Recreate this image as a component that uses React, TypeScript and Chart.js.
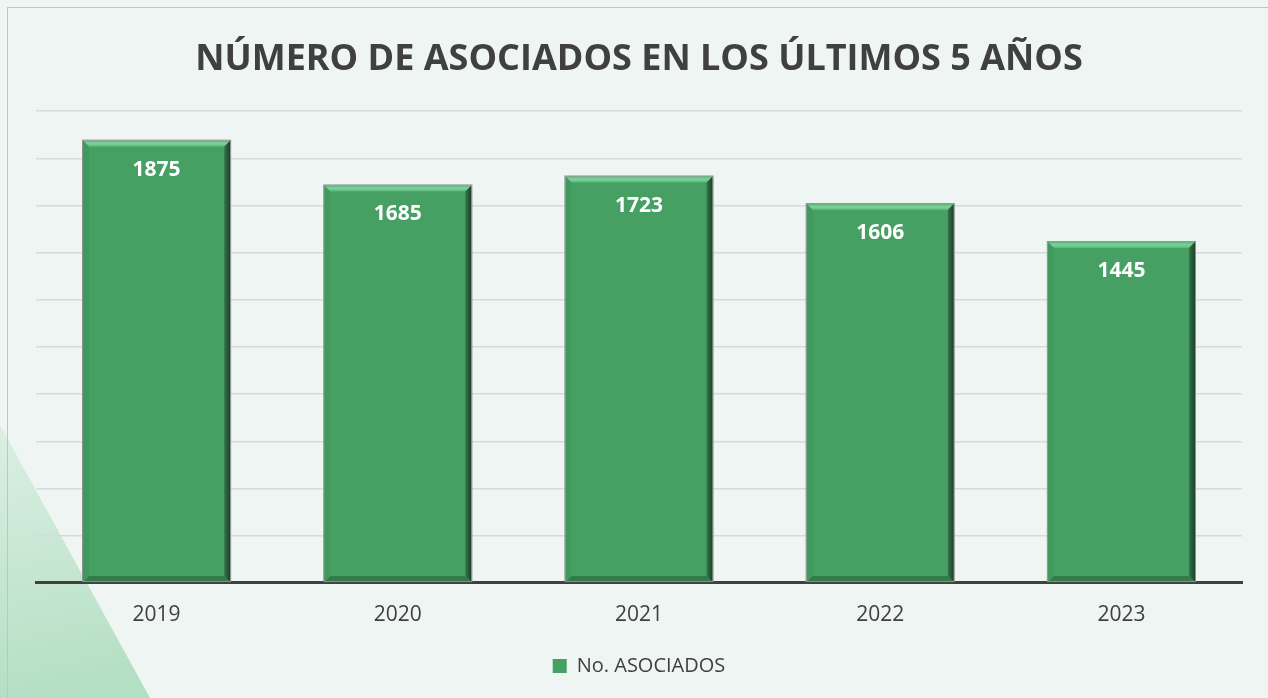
import React, { useEffect, useRef } from "react";
import { Chart, registerables } from "chart.js";

Chart.register(...registerables);

const categories = ["2019", "2020", "2021", "2022", "2023"];
const seriesLabel = "No. ASOCIADOS";
const asociados = [1875, 1685, 1723, 1606, 1445];
const titleText = "NÚMERO DE ASOCIADOS EN LOS ÚLTIMOS 5 AÑOS";

const FONT = "'Open Sans', 'Noto Sans', sans-serif";
const BAR = "#46a064";

const backgroundPlugin = {
  id: "bgDecor",
  beforeDraw(chart: any) {
    const { ctx, width, height } = chart;
    ctx.save();
    ctx.fillStyle = "#eff5f3";
    ctx.fillRect(0, 0, width, height);
    const g = ctx.createLinearGradient(0, 425, 60, 698);
    g.addColorStop(0, "#dcefe3");
    g.addColorStop(1, "#b3dfc3");
    ctx.fillStyle = g;
    ctx.beginPath();
    ctx.moveTo(0, 425);
    ctx.lineTo(150, 698);
    ctx.lineTo(0, 698);
    ctx.closePath();
    ctx.fill();
    ctx.strokeStyle = "#c0c4c2";
    ctx.lineWidth = 1;
    ctx.strokeRect(7.5, 7.5, width + 50, height + 50);
    ctx.restore();
  },
};

const bevelPlugin = {
  id: "bevel",
  afterDatasetsDraw(chart: any) {
    const { ctx } = chart;
    const meta = chart.getDatasetMeta(0);
    ctx.save();
    meta.data.forEach((bar: any) => {
      const { x, y, base, width } = bar.getProps(["x", "y", "base", "width"], true);
      const l = x - width / 2;
      const r = x + width / 2;
      const t = y;
      const b = base;
      const d = 6;
      const gt = ctx.createLinearGradient(0, t, 0, t + d);
      gt.addColorStop(0, "#5fb97c");
      gt.addColorStop(0.5, "#7bd49a");
      gt.addColorStop(1, "#5cb379");
      ctx.fillStyle = gt;
      ctx.beginPath();
      ctx.moveTo(l, t);
      ctx.lineTo(r, t);
      ctx.lineTo(r - d, t + d);
      ctx.lineTo(l + d, t + d);
      ctx.closePath();
      ctx.fill();
      const gr = ctx.createLinearGradient(r - d, 0, r, 0);
      gr.addColorStop(0, "#33774a");
      gr.addColorStop(1, "#1d3f28");
      ctx.fillStyle = gr;
      ctx.beginPath();
      ctx.moveTo(r, t);
      ctx.lineTo(r, b);
      ctx.lineTo(r - d, b - d);
      ctx.lineTo(r - d, t + d);
      ctx.closePath();
      ctx.fill();
      ctx.fillStyle = "#347a4a";
      ctx.beginPath();
      ctx.moveTo(l, b);
      ctx.lineTo(r, b);
      ctx.lineTo(r - d, b - d);
      ctx.lineTo(l + d, b - d);
      ctx.closePath();
      ctx.fill();
      ctx.fillStyle = "#409a5d";
      ctx.beginPath();
      ctx.moveTo(l, t);
      ctx.lineTo(l + d, t + d);
      ctx.lineTo(l + d, b - d);
      ctx.lineTo(l, b);
      ctx.closePath();
      ctx.fill();
      ctx.strokeStyle = "#8a8f8c";
      ctx.lineWidth = 1;
      ctx.strokeRect(l - 0.5, t - 0.5, width + 1, b - t);
    });
    ctx.restore();
  },
  afterDraw(chart: any) {
    const { ctx } = chart;
    const meta = chart.getDatasetMeta(0);
    ctx.save();
    ctx.fillStyle = "#ffffff";
    ctx.font = `bold 21px ${FONT}`;
    ctx.textAlign = "center";
    ctx.textBaseline = "middle";
    meta.data.forEach((bar: any, i: number) => {
      const { x, y } = bar.getProps(["x", "y"], true);
      ctx.fillText(String(asociados[i]), x, y + 29);
    });
    ctx.restore();
  },
};

export default function App() {
  const ref = useRef<HTMLCanvasElement>(null);
  useEffect(() => {
    document.body.style.margin = "0";
    const chart = new Chart(ref.current!, {
      type: "bar",
      data: {
        labels: categories,
        datasets: [
          {
            label: seriesLabel,
            data: asociados,
            backgroundColor: BAR,
            borderWidth: 0,
            categoryPercentage: 1,
            barPercentage: 0.61,
          },
        ],
      },
      options: {
        animation: false,
        responsive: false,
        layout: { padding: { left: 36, right: 26, top: 0, bottom: 12 } },
        plugins: {
          title: {
            display: true,
            text: titleText,
            color: "#404040",
            font: { family: FONT, size: 36, weight: "bold" },
            padding: { top: 38, bottom: 30 },
          },
          legend: {
            position: "bottom",
            labels: {
              color: "#404040",
              font: { family: FONT, size: 20 },
              boxWidth: 14,
              boxHeight: 14,
              padding: 10,
            },
          },
          tooltip: { enabled: false },
        },
        scales: {
          x: {
            grid: { display: false },
            border: { display: true, color: "#404040", width: 3 },
            ticks: { color: "#404040", font: { family: FONT, size: 21 }, padding: 12 },
            afterFit: (scale: any) => {
              scale.height += 6;
            },
          },
          y: {
            min: 0,
            max: 2000,
            ticks: { display: false, stepSize: 200 },
            grid: { color: "#d9d9d9", lineWidth: 1.5, drawTicks: false },
            border: { display: false },
          },
        },
      },
      plugins: [backgroundPlugin, bevelPlugin],
    });
    return () => chart.destroy();
  }, []);
  return <canvas ref={ref} width={1268} height={698} style={{ display: "block" }} />;
}
